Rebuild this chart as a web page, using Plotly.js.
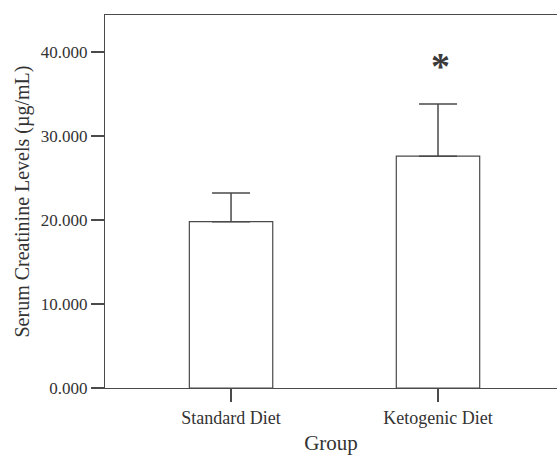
<!DOCTYPE html>
<html>
<head>
<meta charset="utf-8">
<script src="https://cdn.plot.ly/plotly-3.0.1.min.js"></script>
<style>html,body{margin:0;padding:0;background:#fff;}#chart{width:557px;height:455px;}</style>
</head>
<body>
<div id="chart"></div>
<script>
// Data
const groups = ['Standard Diet', 'Ketogenic Diet'];
const means = [19.8, 27.6];
const errUpper = [3.4, 6.2];
const sigMarks = ['', '*'];
const yTicks = [0, 10, 20, 30, 40];

const lineCol = '#4a4a4a';
const textCol = '#333333';
const serif = '"Liberation Serif", "Times New Roman", serif';

const trace = {
  type: 'bar',
  x: [0, 1],
  y: means,
  width: 0.403,
  marker: {color: '#ffffff', line: {color: lineCol, width: 1.2}},
  error_y: {
    type: 'data', symmetric: false,
    array: errUpper, arrayminus: errUpper.map(() => 0),
    visible: true, color: lineCol, thickness: 1.5, width: 19
  },
  hoverinfo: 'none'
};

const annotations = sigMarks.map((s, i) => ({
  x: i, y: means[i] + errUpper[i], xref: 'x', yref: 'y',
  text: '<b>' + s + '</b>', showarrow: false, yanchor: 'bottom', yshift: 15, xshift: 2,
  font: {family: serif, size: 38, color: '#3a3a3a'}
})).filter((a, i) => sigMarks[i]);

const layout = {
  width: 557, height: 455,
  margin: {l: 105, r: 0, t: 15, b: 67},
  paper_bgcolor: '#ffffff', plot_bgcolor: '#ffffff',
  showlegend: false,
  xaxis: {
    range: [-0.609, 1.575],
    tickvals: [0, 1], ticktext: groups,
    ticks: 'outside', ticklen: 13, tickcolor: lineCol, tickwidth: 1.2,
    showline: true, linecolor: lineCol, linewidth: 1.2, mirror: true,
    showgrid: false, zeroline: false,
    tickfont: {family: serif, size: 18, color: textCol},
    title: {text: 'Group', font: {family: serif, size: 21, color: textCol}, standoff: 9}
  },
  yaxis: {
    range: [0, 44.4],
    tickvals: yTicks, tickformat: '.3f',
    ticks: 'outside', ticklen: 13, tickcolor: lineCol, tickwidth: 1.2,
    showline: true, linecolor: lineCol, linewidth: 1.2,
    showgrid: false, zeroline: false,
    tickfont: {family: serif, size: 17, color: textCol},
    ticklabelstandoff: 0,
    title: {text: 'Serum Creatinine Levels (µg/mL)', font: {family: serif, size: 20, color: textCol}, standoff: 5}
  },
  annotations: annotations
};

Plotly.newPlot('chart', [trace], layout, {displayModeBar: false, staticPlot: true});
</script>
</body>
</html>
